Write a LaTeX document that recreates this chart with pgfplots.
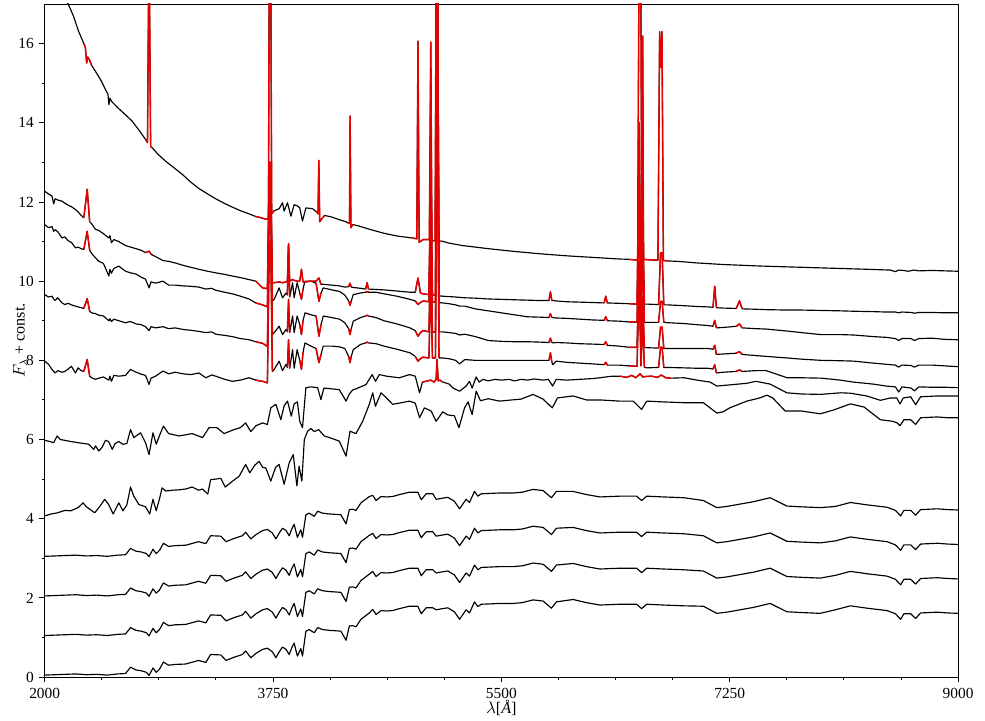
\documentclass[border=0pt]{standalone}
\usepackage{fontspec}
\setmainfont{Liberation Serif}
\usepackage{pgfplots}
\usepackage{pgfplotstable}
\pgfplotsset{compat=1.18}
\definecolor{emis}{RGB}{228,0,0}

% top spectrum (1)
\pgfplotstableread{
l y m
2000 18.3 0
2080 17.7 0
2160 17.15 0
2220 16.7 0
2260 16.31 0
2290 16.08 0
2300 16.0 1
2312 15.9 1
2322 15.51 1
2330 15.66 1
2345 15.58 1
2360 15.45 1
2389 15.3 0
2430 15.08 0
2466 14.84 0
2485 14.72 0
2492 14.46 0
2500 14.62 0
2510 14.55 0
2560 14.38 0
2620 14.2 0
2671 14.04 0
2730 13.78 0
2773 13.58 1
2788 13.5 1
2797 17.5 1
2803 17.5 1
2812 13.4 1
2824 13.37 1
2870 13.2 0
2927 13.03 0
3000 12.84 0
3054 12.7 0
3120 12.5 0
3182 12.34 0
3250 12.2 0
3311 12.08 0
3380 11.96 0
3438 11.87 0
3500 11.78 0
3566 11.7 0
3610 11.64 1
3660 11.6 1
3700 11.56 1
3715 11.6 1
3722 19 1
3732 19 1
3740 11.7 1
3755 11.77 1
3797 11.83 0
3823 11.98 0
3835 11.77 0
3861 11.98 0
3887 11.64 0
3912 11.93 0
3938 11.9 0
3955 11.85 0
3976 11.52 0
4002 11.85 0
4053 11.83 0
4080 11.76 1
4095 11.7 1
4101 13.05 1
4108 11.5 1
4125 11.58 1
4145 11.66 1
4200 11.62 0
4260 11.55 0
4310 11.5 0
4325 11.47 1
4336 11.46 1
4341 14.17 1
4347 11.35 1
4360 11.43 1
4400 11.4 0
4500 11.3 0
4600 11.21 0
4700 11.14 0
4820 11.09 1
4852 11.07 1
4861 16.06 1
4870 10.98 1
4900 11.05 1
4948 11.05 1
4959 16.04 1
4968 11.02 1
4992 11.02 1
5001 18.5 1
5011 18.5 1
5020 11.0 1
5045 11.01 1
5100 10.96 0
5200 10.9 0
5400 10.82 0
5600 10.75 0
5800 10.69 0
6000 10.64 0
6200 10.6 0
6400 10.56 0
6480 10.55 1
6545 10.53 1
6556 19 1
6568 19 1
6576 10.6 1
6583 16.19 1
6590 10.55 1
6630 10.54 1
6700 10.53 1
6713 16.3 1
6722 15.4 1
6731 16.3 1
6742 10.52 1
6780 10.51 1
6850 10.5 0
7000 10.46 0
7200 10.42 0
7500 10.38 0
7900 10.34 0
8300 10.3 0
8480 10.28 0
8520 10.24 0
8545 10.28 0
8580 10.27 0
8620 10.25 0
8660 10.28 0
8700 10.26 0
8800 10.27 0
9000 10.25 0
}\specA

% spectra 2-5 (a,b,c,d); m = emission mask of 3-5, n = emission mask of 2
\pgfplotstableread{
l a b c d m n
2000 12.27 11.43 9.66 7.98 0 0
2030 12.2 11.35 9.6 7.9 0 0
2056 12.15 11.38 9.62 7.77 0 0
2069 11.95 11.26 9.55 7.72 0 0
2080 12.08 11.3 9.51 7.68 0 0
2100 12.05 11.25 9.58 7.74 0 0
2133 12.02 11.09 9.45 7.7 0 0
2154 11.97 11.12 9.41 7.72 0 0
2180 11.92 11.02 9.44 7.78 0 0
2205 11.88 10.98 9.4 7.85 0 0
2236 11.81 10.84 9.37 7.68 0 0
2256 11.75 10.86 9.35 7.81 0 0
2280 11.66 10.82 9.33 7.74 0 0
2300 11.6 10.8 9.31 7.72 1 1
2326 12.32 11.26 9.56 8.02 1 1
2345 11.5 10.78 9.24 7.6 1 1
2360 11.45 10.7 9.2 7.56 0 0
2389 11.31 10.59 9.18 7.52 0 0
2415 11.28 10.5 9.14 7.55 0 0
2450 11.2 10.45 9.12 7.58 0 0
2492 11.09 10.13 9.0 7.5 0 0
2500 11.15 10.3 9.05 7.6 0 0
2512 10.97 10.2 8.98 7.47 0 0
2530 11.05 10.32 9.04 7.62 0 0
2568 11.0 10.38 9.0 7.6 0 0
2620 10.9 10.25 8.95 7.62 0 0
2658 10.86 10.21 8.98 7.77 0 0
2700 10.82 10.18 8.92 7.7 0 0
2740 10.78 10.1 8.9 7.65 0 0
2773 10.72 10.05 8.85 7.62 0 1
2800 10.76 9.83 8.75 7.39 0 1
2815 10.68 9.98 8.85 7.55 0 1
2850 10.62 9.95 8.82 7.6 0 0
2907 10.52 10.0 8.85 7.73 0 0
2950 10.5 9.9 8.8 7.66 0 0
3000 10.46 9.9 8.82 7.7 0 0
3060 10.4 9.88 8.78 7.66 0 0
3120 10.35 9.87 8.76 7.64 0 0
3182 10.3 9.85 8.73 7.68 0 0
3235 10.26 9.8 8.7 7.56 0 0
3280 10.23 9.82 8.72 7.63 0 0
3311 10.21 9.77 8.66 7.6 0 0
3380 10.17 9.72 8.63 7.52 0 0
3438 10.13 9.68 8.6 7.47 0 0
3500 10.09 9.62 8.55 7.5 0 0
3566 10.04 9.55 8.52 7.56 0 0
3618 10.0 9.45 8.47 7.5 1 1
3670 9.83 9.4 8.43 7.47 1 1
3707 9.81 9.35 8.35 7.43 1 1
3722 13.0 12.8 12.0 11.0 1 1
3732 13.0 12.8 12.0 11.0 1 1
3745 9.96 9.5 8.65 7.72 1 1
3759 9.96 9.54 8.7 7.77 0 1
3797 9.98 9.83 8.86 7.98 0 1
3823 9.96 9.58 8.65 7.74 0 1
3850 9.98 9.7 8.78 7.9 0 1
3860 10.0 9.65 8.72 7.82 1 1
3869 10.9 10.95 9.54 8.52 1 1
3878 10.0 9.6 8.7 7.8 1 1
3900 10.04 9.96 9.12 8.27 0 1
3912 10.02 9.58 8.7 7.8 0 1
3935 10.0 9.96 9.12 8.27 0 1
3955 10.0 9.7 8.9 8.0 1 1
3968 10.3 9.54 8.65 7.77 1 1
3980 9.98 9.8 9.0 8.2 1 1
3995 9.98 10.0 9.2 8.44 0 1
4040 10.0 10.0 9.15 8.36 0 1
4080 10.0 9.95 9.12 8.3 1 1
4102 10.08 9.49 8.61 7.94 1 1
4118 9.92 9.7 8.9 8.15 1 1
4135 9.92 9.83 9.12 8.36 0 0
4200 9.9 9.78 9.08 8.36 0 0
4260 9.88 9.74 9.04 8.34 0 0
4300 9.85 9.65 8.95 8.3 0 0
4330 9.86 9.5 8.8 8.1 1 1
4340 9.95 9.39 8.65 7.94 1 1
4350 9.85 9.5 8.8 8.1 1 1
4365 9.84 9.66 8.99 8.27 0 0
4420 9.82 9.7 9.08 8.4 0 0
4460 9.8 9.72 9.12 8.44 1 1
4471 9.96 9.74 9.14 8.46 1 1
4482 9.8 9.72 9.12 8.44 1 1
4540 9.79 9.72 9.08 8.42 0 0
4600 9.78 9.68 9.0 8.36 0 0
4700 9.75 9.62 8.92 8.28 0 0
4800 9.72 9.54 8.82 8.19 0 0
4840 9.72 9.5 8.75 8.1 1 1
4861 10.08 9.41 8.61 7.98 1 1
4880 9.7 9.46 8.7 8.04 1 1
4900 9.68 9.5 8.75 8.08 1 1
4945 9.66 9.48 8.72 8.06 1 1
4959 13.0 12.0 11.0 10.0 1 1
4972 9.65 9.47 8.71 8.06 1 1
4995 9.64 9.47 8.72 8.06 1 1
5003 18.0 17.5 15.0 13.0 1 1
5012 18.0 17.5 15.0 13.0 1 1
5022 9.63 9.46 8.72 8.06 1 1
5050 9.62 9.45 8.72 8.06 0 0
5100 9.61 9.43 8.7 8.04 0 0
5150 9.6 9.4 8.68 8.0 0 0
5180 9.59 9.37 8.64 7.91 0 0
5220 9.58 9.37 8.66 8.02 0 0
5300 9.57 9.3 8.6 8.0 0 0
5400 9.55 9.25 8.5 8.0 0 0
5500 9.54 9.2 8.48 8.0 0 0
5600 9.53 9.15 8.47 8.0 0 0
5700 9.52 9.1 8.47 8.0 0 0
5800 9.51 9.09 8.46 8.0 0 0
5865 9.51 9.08 8.45 8.0 1 1
5876 9.73 9.18 8.56 8.19 1 1
5887 9.51 9.08 8.45 7.95 1 1
5895 9.51 9.08 8.44 7.89 0 0
5920 9.5 9.07 8.45 7.98 0 0
6000 9.48 9.06 8.44 7.95 0 0
6100 9.47 9.04 8.42 7.93 0 0
6200 9.46 9.02 8.41 7.91 0 0
6288 9.45 9.01 8.4 7.89 1 1
6300 9.62 9.1 8.47 7.95 1 1
6312 9.45 9.0 8.38 7.88 1 1
6400 9.44 8.99 8.36 7.88 0 0
6480 9.43 8.97 8.33 7.86 1 1
6540 9.42 8.97 8.33 7.85 1 1
6556 14.0 12.2 10.5 10.04 1 1
6570 9.45 9.0 8.35 7.86 1 1
6583 11.8 10.6 9.6 9.0 1 1
6596 9.42 8.96 8.32 7.82 1 1
6620 9.42 8.96 8.32 7.81 0 0
6690 9.41 8.96 8.31 7.82 0 0
6705 9.41 8.96 8.31 7.82 1 1
6720 10.72 9.49 8.84 8.33 1 1
6732 10.72 9.49 8.84 8.33 1 1
6745 9.4 8.96 8.3 7.82 1 1
6780 9.4 8.95 8.3 7.82 0 0
6900 9.38 8.93 8.3 7.81 0 0
7000 9.36 8.9 8.3 7.8 0 0
7080 9.35 8.88 8.3 7.8 0 0
7122 9.34 8.86 8.28 7.78 1 1
7135 9.87 9.01 8.38 7.89 1 1
7148 9.33 8.82 8.15 7.68 1 1
7200 9.32 8.83 8.16 7.7 0 0
7300 9.31 8.86 8.18 7.72 1 1
7325 9.5 8.92 8.22 7.76 1 1
7345 9.3 8.82 8.15 7.72 1 1
7450 9.29 8.8 8.12 7.74 0 0
7530 9.28 8.79 8.1 7.74 0 0
7690 9.27 8.74 8.06 7.56 0 0
7800 9.27 8.7 8.03 7.56 0 0
7950 9.26 8.65 8.0 7.55 0 0
8100 9.25 8.65 7.99 7.5 0 0
8200 9.24 8.64 7.98 7.45 0 0
8350 9.23 8.6 7.93 7.4 0 0
8450 9.22 8.58 7.9 7.35 0 0
8520 9.22 8.55 7.88 7.33 0 0
8545 9.2 8.5 7.83 7.2 0 0
8570 9.22 8.55 7.88 7.33 0 0
8640 9.21 8.55 7.87 7.3 0 0
8665 9.19 8.5 7.83 7.23 0 0
8700 9.21 8.55 7.88 7.33 0 0
8800 9.21 8.56 7.88 7.32 0 0
8900 9.2 8.53 7.86 7.32 0 0
9000 9.2 8.52 7.84 7.31 0 0
}\specB

% spectrum 6
\pgfplotstableread{
l y m
2000 5.98 0
2040 5.95 0
2069 5.92 0
2095 6.09 0
2120 6.0 0
2154 5.98 0
2200 5.95 0
2256 5.92 0
2300 5.9 0
2338 5.88 0
2376 5.75 0
2390 5.84 0
2415 5.71 0
2440 5.8 0
2466 5.98 0
2490 5.95 0
2518 5.75 0
2540 5.9 0
2568 5.95 0
2600 5.88 0
2630 5.9 0
2658 6.25 0
2683 6.05 0
2735 6.17 0
2773 5.92 0
2800 5.62 0
2830 6.17 0
2855 5.88 0
2880 6.1 0
2910 6.34 0
2950 6.15 0
3030 6.09 0
3130 6.15 0
3210 6.05 0
3260 6.3 0
3320 6.3 0
3375 6.15 0
3450 6.25 0
3500 6.3 0
3540 6.42 0
3580 6.2 0
3620 6.35 0
3670 6.42 0
3707 6.38 0
3733 6.8 0
3772 6.89 0
3810 6.5 0
3835 6.85 0
3861 6.97 0
3890 6.59 0
3912 6.9 0
3937 6.95 0
3955 6.46 0
3976 6.3 0
4002 7.31 0
4040 7.33 0
4092 7.31 0
4117 7.01 0
4140 7.3 0
4200 7.28 0
4258 7.26 0
4310 6.97 0
4335 7.15 0
4360 7.25 0
4386 7.28 0
4463 7.39 0
4510 7.64 0
4535 7.47 0
4565 7.64 0
4620 7.6 0
4667 7.58 0
4719 7.56 0
4796 7.64 0
4840 7.6 0
4873 7.18 0
4895 7.45 1
4920 7.47 1
4960 7.5 1
4985 7.45 1
5000 7.52 1
5007 8.02 1
5016 7.48 1
5030 7.5 1
5045 7.46 1
5100 7.4 0
5130 7.3 0
5180 7.22 0
5230 7.35 0
5256 7.47 0
5276 7.3 0
5307 7.58 0
5330 7.45 0
5360 7.52 0
5400 7.48 0
5450 7.52 0
5500 7.5 0
5560 7.52 0
5600 7.48 0
5650 7.52 0
5700 7.5 0
5750 7.53 0
5820 7.5 0
5860 7.52 0
5893 7.35 0
5920 7.52 0
6000 7.5 0
6100 7.52 0
6200 7.54 0
6255 7.56 0
6300 7.58 0
6350 7.6 0
6408 7.6 1
6460 7.57 1
6500 7.62 1
6530 7.56 1
6563 7.66 1
6585 7.58 1
6600 7.59 1
6650 7.6 1
6700 7.57 1
6725 7.63 1
6760 7.56 1
6800 7.55 1
6900 7.56 0
7000 7.5 0
7100 7.45 0
7151 7.35 0
7250 7.38 0
7381 7.42 0
7450 7.47 0
7560 7.4 0
7688 7.18 0
7800 7.15 0
7944 7.14 0
8100 7.18 0
8175 7.17 0
8300 7.1 0
8405 6.99 0
8480 7.05 0
8530 7.05 0
8555 6.9 0
8580 7.05 0
8637 7.08 0
8675 6.88 0
8713 7.08 0
8841 7.1 0
9000 7.1 0
}\specC

% spectrum 7
\pgfplotstableread{
l y
2000 4.07
2050 4.12
2100 4.15
2154 4.21
2200 4.2
2256 4.28
2295 4.4
2320 4.3
2346 4.24
2384 4.15
2420 4.3
2460 4.49
2490 4.36
2525 4.12
2568 4.4
2600 4.2
2630 4.35
2658 4.8
2683 4.57
2722 4.36
2773 4.3
2805 4.12
2830 4.49
2855 4.2
2880 4.5
2900 4.78
2927 4.7
2980 4.72
3030 4.73
3080 4.75
3130 4.8
3180 4.72
3210 4.75
3250 4.62
3272 4.99
3310 5.0
3350 5.02
3384 4.8
3440 4.95
3490 5.07
3540 5.37
3572 5.16
3610 5.35
3643 5.45
3670 5.3
3695 5.28
3733 4.95
3770 5.3
3797 5.37
3835 4.87
3874 5.41
3905 5.62
3933 4.83
3950 5.33
3971 4.95
3990 6.0
4015 6.21
4040 6.28
4066 6.2
4100 6.25
4143 6.09
4182 6.05
4258 5.96
4310 5.58
4340 6.21
4386 6.15
4437 6.46
4488 6.89
4514 7.18
4535 6.84
4578 7.18
4620 7.05
4667 6.89
4719 6.92
4796 6.97
4840 6.92
4873 6.55
4910 6.8
4962 6.72
5000 6.46
5051 6.7
5090 6.62
5140 6.6
5175 6.3
5218 6.8
5245 6.95
5276 6.63
5307 7.22
5340 6.98
5400 7.03
5487 6.97
5580 7.0
5650 7.02
5743 7.14
5820 7.02
5890 6.8
5930 7.05
6000 7.08
6050 7.1
6152 7.0
6255 7.0
6408 6.97
6510 6.97
6575 6.76
6614 6.97
6741 6.95
6900 6.93
7048 6.93
7151 6.67
7200 6.7
7250 6.8
7381 6.97
7480 7.05
7535 7.12
7580 7.05
7675 6.72
7800 6.72
7944 6.65
8050 6.75
8175 6.9
8280 6.82
8405 6.5
8500 6.46
8533 6.42
8555 6.35
8585 6.5
8637 6.5
8675 6.38
8713 6.55
8841 6.57
8920 6.55
9000 6.55
}\specD

% spectra 8-11 (d=8, c=9, b=10, a=11)
\pgfplotstableread{
l a b c d
2000 0.05 1.05 2.05 3.05
2080 0.06 1.06 2.06 3.06
2160 0.07 1.07 2.07 3.07
2240 0.08 1.08 2.08 3.08
2320 0.06 1.06 2.06 3.06
2400 0.07 1.07 2.07 3.07
2480 0.05 1.05 2.05 3.05
2560 0.08 1.08 2.08 3.08
2620 0.09 1.09 2.09 3.09
2658 0.25 1.25 2.25 3.25
2700 0.18 1.18 2.18 3.18
2740 0.16 1.16 2.16 3.16
2780 0.12 1.12 2.12 3.12
2800 0.04 1.04 2.04 3.04
2830 0.23 1.23 2.23 3.23
2855 0.12 1.12 2.12 3.12
2880 0.2 1.2 2.2 3.2
2910 0.38 1.38 2.38 3.38
2950 0.3 1.3 2.3 3.3
3000 0.32 1.32 2.32 3.32
3080 0.33 1.33 2.33 3.33
3180 0.42 1.42 2.42 3.42
3235 0.37 1.37 2.37 3.37
3272 0.57 1.57 2.57 3.57
3350 0.56 1.56 2.56 3.56
3390 0.42 1.42 2.42 3.42
3450 0.5 1.5 2.5 3.5
3515 0.57 1.57 2.57 3.57
3540 0.66 1.66 2.66 3.66
3580 0.49 1.49 2.49 3.49
3620 0.6 1.6 2.6 3.6
3670 0.7 1.7 2.7 3.7
3707 0.73 1.73 2.73 3.73
3745 0.64 1.64 2.64 3.64
3772 0.49 1.49 2.49 3.49
3800 0.65 1.65 2.65 3.65
3823 0.76 1.76 2.76 3.76
3850 0.7 1.7 2.7 3.7
3874 0.57 1.57 2.57 3.57
3895 0.75 1.75 2.75 3.75
3912 0.86 1.86 2.86 3.86
3937 0.53 1.53 2.53 3.53
3963 0.72 1.72 2.72 3.72
3976 0.53 1.53 2.53 3.53
4002 1.16 2.14 3.12 4.10
4028 1.2 2.18 3.16 4.14
4066 1.12 2.10 3.08 4.06
4092 1.25 2.23 3.21 4.19
4130 1.2 2.18 3.16 4.14
4182 1.18 2.16 3.14 4.12
4230 1.17 2.15 3.13 4.11
4270 1.16 2.14 3.12 4.10
4310 0.93 1.91 2.89 3.87
4335 1.29 2.27 3.25 4.23
4360 1.3 2.28 3.26 4.24
4386 1.27 2.25 3.23 4.21
4424 1.46 2.44 3.42 4.40
4460 1.55 2.53 3.51 4.49
4488 1.62 2.60 3.58 4.56
4514 1.71 2.67 3.63 4.59
4540 1.58 2.54 3.50 4.46
4578 1.68 2.64 3.60 4.56
4620 1.67 2.63 3.59 4.55
4667 1.68 2.64 3.60 4.56
4719 1.73 2.69 3.65 4.61
4796 1.79 2.75 3.71 4.67
4860 1.79 2.75 3.71 4.67
4886 1.6 2.56 3.52 4.48
4924 1.75 2.71 3.67 4.63
4975 1.75 2.71 3.67 4.63
5000 1.7 2.63 3.56 4.49
5051 1.73 2.66 3.59 4.52
5090 1.75 2.68 3.61 4.54
5140 1.65 2.58 3.51 4.44
5180 1.46 2.39 3.32 4.25
5230 1.7 2.63 3.56 4.49
5256 1.62 2.55 3.48 4.41
5294 1.9 2.83 3.76 4.69
5320 1.78 2.71 3.64 4.57
5346 1.84 2.77 3.70 4.63
5420 1.85 2.78 3.71 4.64
5487 1.86 2.79 3.72 4.65
5589 1.86 2.79 3.72 4.65
5660 1.88 2.81 3.74 4.67
5743 1.95 2.88 3.81 4.74
5820 1.92 2.85 3.78 4.71
5884 1.74 2.67 3.60 4.53
5922 1.9 2.83 3.76 4.69
6050 1.96 2.87 3.78 4.69
6152 1.88 2.79 3.70 4.61
6255 1.82 2.73 3.64 4.55
6408 1.84 2.75 3.66 4.57
6536 1.84 2.75 3.66 4.57
6575 1.73 2.64 3.55 4.46
6614 1.84 2.75 3.66 4.57
6741 1.82 2.73 3.64 4.55
6900 1.8 2.71 3.62 4.53
7048 1.79 2.68 3.57 4.46
7151 1.61 2.50 3.39 4.28
7228 1.64 2.53 3.42 4.31
7330 1.7 2.59 3.48 4.37
7432 1.76 2.65 3.54 4.43
7560 1.86 2.75 3.64 4.53
7688 1.65 2.54 3.43 4.32
7800 1.63 2.52 3.41 4.30
7944 1.61 2.50 3.39 4.28
8060 1.7 2.57 3.44 4.31
8175 1.8 2.67 3.54 4.41
8303 1.74 2.61 3.48 4.35
8456 1.68 2.55 3.42 4.29
8520 1.6 2.47 3.34 4.21
8560 1.46 2.33 3.20 4.07
8585 1.6 2.47 3.34 4.21
8637 1.6 2.47 3.34 4.21
8675 1.48 2.35 3.22 4.09
8713 1.62 2.49 3.36 4.23
8841 1.64 2.51 3.38 4.25
8920 1.62 2.49 3.36 4.23
9000 1.61 2.48 3.35 4.22
}\specE

\begin{document}
\begin{tikzpicture}
\begin{axis}[
  scale only axis, width=593pt, height=437pt,
  xmin=2000, xmax=9000, ymin=0, ymax=17,
  xtick={2000,3750,5500,7250,9000},
  minor x tick num=3,
  ytick={0,2,4,6,8,10,12,14,16},
  minor y tick num=1,
  tick align=outside, tick pos=left,
  major tick length=3.5pt, minor tick length=2pt,
  every tick/.style={black, line width=0.6pt},
  axis line style={line width=0.6pt},
  scaled x ticks=false,
  /pgf/number format/1000 sep={},
  /pgf/number format/assume math mode=true,
  tick label style={font=\fontsize{10}{12}\selectfont},
  xlabel={$\lambda$[\textit{\AA}]},
  ylabel={$F_\lambda$ + const.},
  every axis x label/.style={at={(axis description cs:0.5,0)}, yshift=-20pt, anchor=center},
  every axis y label/.style={at={(axis description cs:-0.027,0.5)}, rotate=90, anchor=center},
  label style={font=\fontsize{10.5}{12}\selectfont},
  black line/.style={black, line width=0.75pt, line join=round},
  red base/.style={emis, line width=0.95pt, line join=round, unbounded coords=jump},
  red line/.style={red base, restrict expr to domain={\thisrow{m}}{0.5:1.5}},
  red line two/.style={red base, restrict expr to domain={\thisrow{n}}{0.5:1.5}},
]
% black spectra
\addplot[black line] table[x=l, y=y] {\specA};
\addplot[black line] table[x=l, y=a] {\specB};
\addplot[black line] table[x=l, y=b] {\specB};
\addplot[black line] table[x=l, y=c] {\specB};
\addplot[black line] table[x=l, y=d] {\specB};
\addplot[black line] table[x=l, y=y] {\specC};
\addplot[black line] table[x=l, y=y] {\specD};
\addplot[black line] table[x=l, y=d] {\specE};
\addplot[black line] table[x=l, y=c] {\specE};
\addplot[black line] table[x=l, y=b] {\specE};
\addplot[black line] table[x=l, y=a] {\specE};
% emission-line windows
\addplot[red line] table[x=l, y=y] {\specA};
\addplot[red line two] table[x=l, y=a] {\specB};
\addplot[red line] table[x=l, y=b] {\specB};
\addplot[red line] table[x=l, y=c] {\specB};
\addplot[red line] table[x=l, y=d] {\specB};
\addplot[red line] table[x=l, y=y] {\specC};
\end{axis}
\pgfresetboundingbox
\path ([xshift=-29pt,yshift=-28pt]current axis.south west) rectangle ([xshift=17.5pt,yshift=2.6pt]current axis.north east);
\end{tikzpicture}
\end{document}
